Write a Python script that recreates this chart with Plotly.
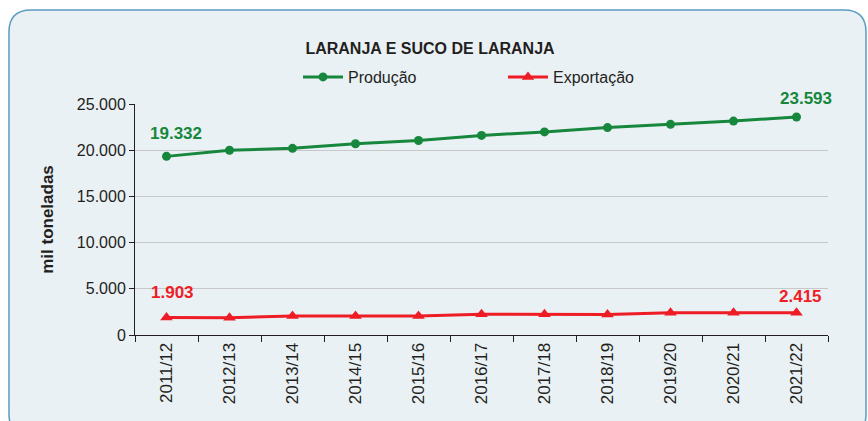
import plotly.graph_objects as go

categories = ["2011/12", "2012/13", "2013/14", "2014/15", "2015/16", "2016/17",
              "2017/18", "2018/19", "2019/20", "2020/21", "2021/22"]
producao = [19332, 20000, 20200, 20700, 21050, 21600, 21980, 22450, 22800, 23150, 23593]
exportacao = [1903, 1880, 2050, 2050, 2050, 2250, 2250, 2220, 2400, 2400, 2415]
y_ticks = [0, 5000, 10000, 15000, 20000, 25000]

GREEN = "#16873c"
RED = "#ee1c25"
BG = "#eaf1f5"
TXT = "#231f20"
FONT = "Liberation Sans, Arial"

W, H = 868, 421
# plot area in page pixels
L, R, T, B = 135, 828, 104, 335

def px(x):
    return (x - L) / (R - L)

def py(y):
    return (B - y) / (B - T)

fig = go.Figure()
fig.add_trace(go.Scatter(x=categories, y=producao, name="Produção", mode="lines+markers",
                         line=dict(color=GREEN, width=3),
                         marker=dict(symbol="circle", size=9, color=GREEN)))
fig.add_trace(go.Scatter(x=categories, y=exportacao, name="Exportação", mode="lines+markers",
                         line=dict(color=RED, width=3),
                         marker=dict(symbol="triangle-up", size=11, color=RED)))

def fmt(v):
    return f"{v:,}".replace(",", ".")

label_specs = [
    (producao, GREEN, 0, 9, 23),
    (producao, GREEN, len(categories) - 1, 9, 19),
    (exportacao, RED, 0, 6, 25),
    (exportacao, RED, len(categories) - 1, 4, 16),
]
anns = []
for ser, col, idx, xs, ys in label_specs:
    anns.append(dict(x=categories[idx], y=ser[idx], xref="x", yref="y",
                     text=f"<b>{fmt(ser[idx])}</b>", showarrow=False,
                     xshift=xs, yshift=ys,
                     font=dict(family=FONT, size=17, color=col)))

# rounded panel (page pixel coords)
x0, x1, y0, y1, r = 9, 866, 10, 436, 22
path = (f"M {px(x0)},{py(y0 + r)} Q {px(x0)},{py(y0)} {px(x0 + r)},{py(y0)} "
        f"L {px(x1 - r)},{py(y0)} Q {px(x1)},{py(y0)} {px(x1)},{py(y0 + r)} "
        f"L {px(x1)},{py(y1 - r)} Q {px(x1)},{py(y1)} {px(x1 - r)},{py(y1)} "
        f"L {px(x0 + r)},{py(y1)} Q {px(x0)},{py(y1)} {px(x0)},{py(y1 - r)} Z")

fig.update_layout(
    width=W, height=H,
    margin=dict(l=L, r=W - R, t=T, b=H - B),
    paper_bgcolor="white", plot_bgcolor="rgba(0,0,0,0)",
    separators=",.",
    font=dict(family=FONT, color=TXT),
    title=dict(text="<b>LARANJA E SUCO DE LARANJA</b>", x=430 / W, xanchor="center",
               y=1 - 48 / H, yanchor="middle",
               font=dict(size=16, color=TXT)),
    legend=dict(orientation="h", x=px(298), xanchor="left", y=py(77), yanchor="middle",
                bgcolor="rgba(0,0,0,0)", font=dict(size=16, color=TXT),
                entrywidth=150, entrywidthmode="pixels", itemwidth=40),
    shapes=[dict(type="path", path=path, xref="paper", yref="paper", layer="below",
                 fillcolor=BG, line=dict(color="#5b9cc0", width=1.5))],
    annotations=anns,
    xaxis=dict(type="category", showgrid=False, showline=True, linecolor=TXT,
               linewidth=1, ticks="outside", tickson="boundaries", ticklen=6,
               tickcolor=TXT, tickangle=-90,
               tickfont=dict(size=17, color=TXT), range=[-0.5, 10.5]),
    yaxis=dict(range=[0, 25000], tickvals=y_ticks, tickformat=",d",
               showgrid=True, gridcolor="#c8c8c8", gridwidth=1,
               showline=True, linecolor=TXT, linewidth=1,
               ticks="outside", ticklen=5, tickcolor=TXT,
               tickfont=dict(size=16, color=TXT), zeroline=False,
               title=dict(text="<b>mil toneladas</b>", font=dict(size=17, color=TXT),
                          standoff=18)),
)

fig.write_html("out.html",
               config={"displayModeBar": False},
               post_script="document.body.style.margin='0';document.body.style.overflow='hidden';")
